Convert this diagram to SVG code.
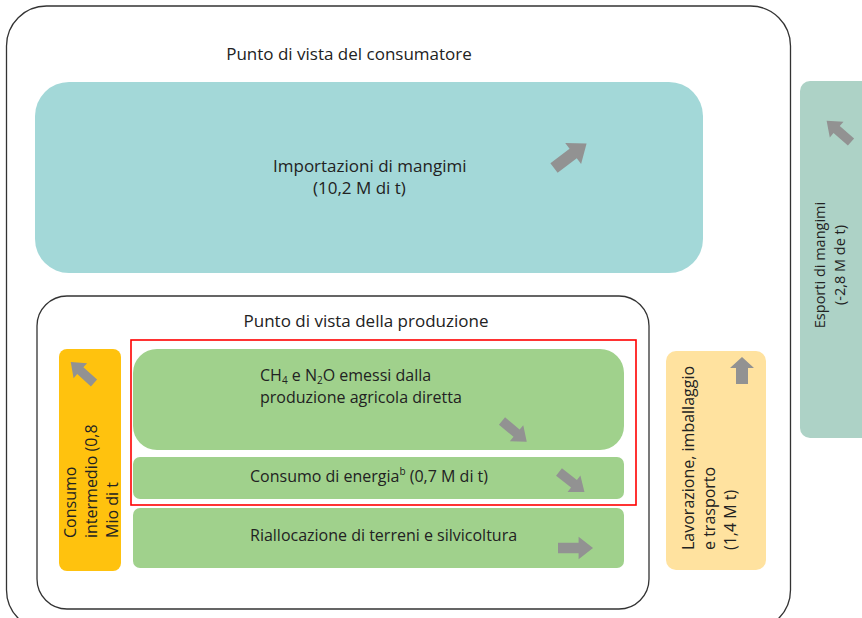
<svg xmlns="http://www.w3.org/2000/svg" xmlns:xlink="http://www.w3.org/1999/xlink" width="862" height="618" viewBox="0 0 862 618">
<style>
text{font-family:"Open Sans","Liberation Sans",sans-serif;fill:#222}
.frame{fill:none;stroke:#333;stroke-width:1.3}
.t16{font-size:16px}
.t17{font-size:17px}
.arrow{fill:#929292}
</style>
<defs>
<path id="arr" d="M0,-5 L20,-5 L20,-11 L34,0 L20,11 L20,5 L0,5 Z"/>
</defs>
<rect width="862" height="618" fill="#fff"/>
<g id="consumer-view">
<rect class="frame" x="6.5" y="6" width="784" height="624" rx="40"/>
<text class="t17" x="349" y="60" text-anchor="middle">Punto di vista del consumatore</text>
</g>
<g id="imports">
<rect x="35" y="82" width="668" height="191" rx="34" fill="#A3D8D8"/>
<text class="t17" x="273" y="172">Importazioni di mangimi</text>
<text class="t17" x="313" y="194">(10,2 M di t)</text>
</g>
<g id="exports">
<rect x="800" y="81" width="72" height="357" rx="10" fill="#ADD2C6"/>
<text font-size="14.5" transform="translate(825,265) rotate(-90)" text-anchor="middle">Esporti di mangimi</text>
<text font-size="14.5" transform="translate(845,265) rotate(-90)" text-anchor="middle">(-2,8 M de t)</text>
</g>
<g id="production-view">
<rect class="frame" x="37" y="296" width="612" height="313" rx="30"/>
<text class="t17" x="366" y="327" text-anchor="middle">Punto di vista della produzione</text>
</g>
<g id="intermediate">
<rect x="59" y="349" width="62" height="222" rx="8" fill="#FFC20E"/>
<text class="t16" transform="translate(76,538) rotate(-90)">Consumo</text>
<text class="t16" transform="translate(97,538) rotate(-90)">intermedio (0,8</text>
<text class="t16" transform="translate(118,538) rotate(-90)">Mio di t</text>
</g>
<g id="direct-emissions">
<rect x="133" y="349" width="491" height="101" rx="24" fill="#A0D18C"/>
<text class="t16" x="260" y="381">CH<tspan font-size="10" baseline-shift="-3">4</tspan> e N<tspan font-size="10" baseline-shift="-3">2</tspan>O emessi dalla</text>
<text class="t16" x="260" y="403">produzione agricola diretta</text>
</g>
<g id="energy">
<rect x="133" y="457" width="491" height="42" rx="7" fill="#A0D18C"/>
<text class="t16" x="250" y="482">Consumo di energia<tspan font-size="10" baseline-shift="7">b</tspan> (0,7 M di t)</text>
</g>
<g id="land">
<rect x="133" y="508" width="491" height="60" rx="7" fill="#A0D18C"/>
<text class="t16" x="250" y="541">Riallocazione di terreni e silvicoltura</text>
</g>
<g id="processing">
<rect x="666" y="351" width="100" height="219" rx="10" fill="#FFE29F"/>
<text class="t16" transform="translate(694,550) rotate(-90)">Lavorazione, imballaggio</text>
<text class="t16" transform="translate(715,550) rotate(-90)">e trasporto</text>
<text class="t16" transform="translate(736,550) rotate(-90)">(1,4 M t)</text>
</g>
<g id="scope-highlight">
<rect x="131" y="340" width="505" height="165" fill="none" stroke="#FF0000" stroke-width="1.6"/>
</g>
<g id="connectors" class="arrow">
<use xlink:href="#arr" transform="translate(554,168) rotate(-37) scale(1.2)"/>
<use xlink:href="#arr" transform="translate(94,383) rotate(-138) scale(0.92)"/>
<use xlink:href="#arr" transform="translate(502,421) rotate(40) scale(0.95)"/>
<use xlink:href="#arr" transform="translate(559,472) rotate(38) scale(0.95)"/>
<use xlink:href="#arr" transform="translate(558,548) scale(1.03)"/>
<polygon points="736,384 748,384 748,368 754,368 742,357 730,368 736,368"/>
<use xlink:href="#arr" transform="translate(851,142) rotate(-139) scale(0.95)"/>
</g>
</svg>
